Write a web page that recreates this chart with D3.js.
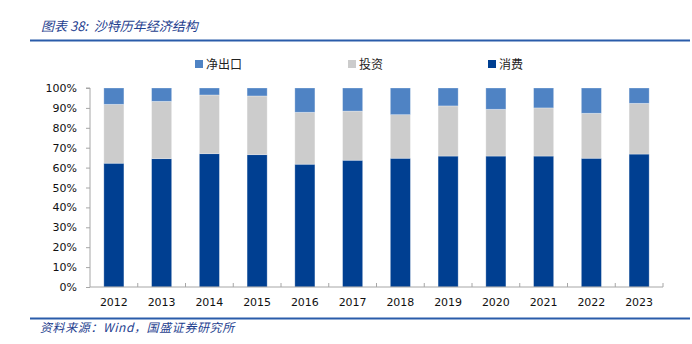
<!DOCTYPE html>
<html><head><meta charset="utf-8">
<script src="https://cdn.jsdelivr.net/npm/d3@7"></script>
<style>body{margin:0;background:#fff;}svg{display:block;}text{white-space:pre;}</style>
</head><body>
<svg id="c" width="692" height="344"></svg>
<script>
const years = ["2012","2013","2014","2015","2016","2017","2018","2019","2020","2021","2022","2023"];
const consumption = [62.2,64.5,67.0,66.5,61.7,63.7,64.7,65.8,65.8,65.8,64.7,66.8];
const investment  = [29.6,28.8,29.5,29.5,26.1,24.7,21.9,25.2,23.5,24.2,22.6,25.5];
const netExports  = [8.2,6.7,3.5,4.0,12.2,11.6,13.4,9.0,10.7,10.0,12.7,7.7];
const seriesNames = ["消费","投资","净出口"];
const legendOrder = ["净出口","投资","消费"];
const colors = {"消费":"#003f91","投资":"#cccccc","净出口":"#4f83c4"};
const yTicks = [0,10,20,30,40,50,60,70,80,90,100];

const svg = d3.select("#c");
const m = {l:90, r:663, t:88, b:287};
const x = d3.scaleBand().domain(years).range([m.l, m.r]).paddingInner(0.58).paddingOuter(0.29);
const xb = d3.scaleBand().domain(years).range([m.l, m.r]);
const y = d3.scaleLinear().domain([0,100]).range([m.b, m.t]);

// title
svg.append("text").attr("x",41).attr("y",31).attr("font-family","Noto Sans CJK SC").attr("font-style","italic")
  .attr("font-size",13).attr("fill","#1f3f8f").text("图表 38:  沙特历年经济结构");
svg.append("line").attr("x1",30).attr("x2",690).attr("y1",40.5).attr("y2",40.5).attr("stroke","#2a5caa").attr("stroke-width",2);
svg.append("line").attr("x1",30).attr("x2",690).attr("y1",318.5).attr("y2",318.5).attr("stroke","#2a5caa").attr("stroke-width",2);
svg.append("text").attr("x",40).attr("y",332).attr("font-family","Noto Sans CJK SC").attr("font-style","italic")
  .attr("font-size",12).attr("letter-spacing",0.6).attr("fill","#1f3f8f").text("资料来源：Wind，国盛证券研究所");

// legend
const legX = {"净出口":195,"投资":348,"消费":488};
legendOrder.forEach(n=>{
  const g = svg.append("g").attr("transform",`translate(${legX[n]},60)`);
  g.append("rect").attr("x",0).attr("y",0).attr("width",8).attr("height",8).attr("fill",colors[n]);
  g.append("text").attr("x",11).attr("y",8.5).attr("font-family","Noto Sans CJK SC").attr("font-size",12).attr("fill","#222").text(n);
});

// stacked data
const rows = years.map((yr,i)=>({year:yr,"消费":consumption[i],"投资":investment[i],"净出口":netExports[i]}));
const stack = d3.stack().keys(seriesNames)(rows);
svg.append("g").selectAll("g").data(stack).join("g").attr("fill",d=>colors[d.key])
  .selectAll("rect").data(d=>d).join("rect")
  .attr("x",d=>x(d.data.year)).attr("width",x.bandwidth())
  .attr("y",d=>y(d[1])).attr("height",d=>y(d[0])-y(d[1]))
  .attr("stroke","#ffffff").attr("stroke-opacity",0.35).attr("stroke-width",0.8);

// axes
const yAxis = d3.axisLeft(y).tickValues(yTicks).tickFormat(d=>d+"%").tickSize(4).tickPadding(9);
const gy = svg.append("g").attr("transform",`translate(${m.l},0)`).call(yAxis);
const xAxis = d3.axisBottom(xb).tickSize(0).tickPadding(11);
const gx = svg.append("g").attr("transform",`translate(0,${m.b})`).call(xAxis);
// category boundary ticks
gx.selectAll("line.bt").data(years.slice(1).concat(["end"])).join("line").attr("class","bt")
  .attr("x1",(d,i)=>m.l + (i+1)*xb.step()).attr("x2",(d,i)=>m.l + (i+1)*xb.step())
  .attr("y1",0).attr("y2",-4).attr("stroke","#a6a6a6");
[gy,gx].forEach(g=>{
  g.select(".domain").attr("stroke","#a6a6a6");
  g.selectAll(".tick line").attr("stroke","#a6a6a6");
  g.selectAll("text").attr("font-family","DejaVu Sans").attr("font-size",11).attr("fill","#111");
});
gy.select(".domain").attr("d",`M-4,${m.t}H0V${m.b}`);
gx.select(".domain").attr("d",`M${m.l},0H${m.r}`);
</script>
</body></html>
